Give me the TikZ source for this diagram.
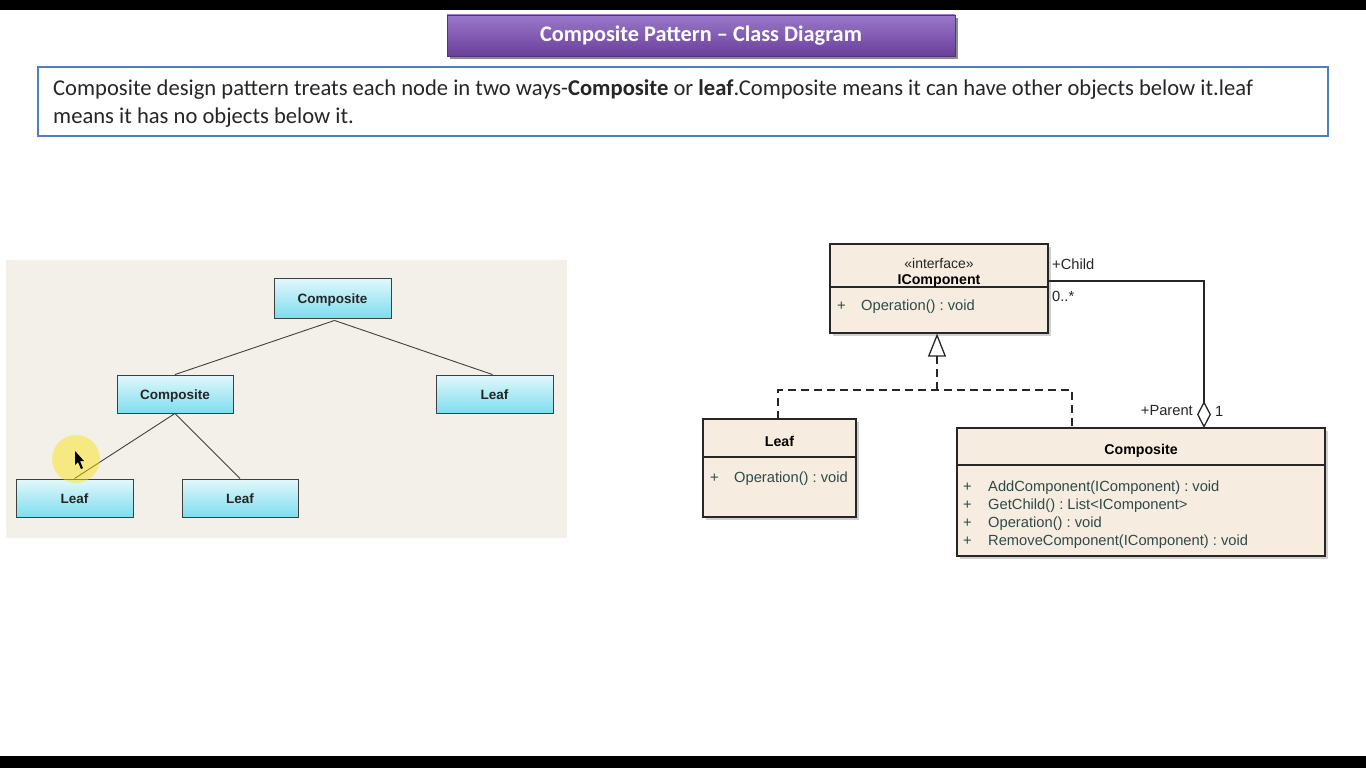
\documentclass[tikz,border=0pt]{standalone}
\usepackage{fontspec}
\setmainfont{Liberation Sans}
\newfontfamily\calfont{Carlito}
\usetikzlibrary{arrows.meta,shadows,calc}
\frenchspacing
\definecolor{umlfill}{HTML}{F6ECDF}
\definecolor{optext}{HTML}{2E4A4A}
\definecolor{descblue}{HTML}{4F7FC0}
\definecolor{panelbg}{HTML}{F3F0EA}
\definecolor{cyantop}{HTML}{E2F8FC}
\definecolor{cyanbot}{HTML}{7EDDEE}
\definecolor{purtop}{HTML}{9A78CA}
\definecolor{purbot}{HTML}{6A3F9B}
\tikzset{
  treebox/.style={draw=black!75, line width=0.9pt, top color=cyantop, bottom color=cyanbot,
    font=\fontsize{13.5}{15}\selectfont\bfseries, text=black!85, inner sep=0pt,
    text height=10pt, text depth=0pt},
  treeline/.style={draw=black!75, line width=0.9pt},
  umlbox/.style={draw=black!85, line width=1.2pt, fill=umlfill, inner sep=0pt,
    drop shadow={shadow xshift=3pt, shadow yshift=-3pt, fill=black!30, opacity=0.6}},
  umldiv/.style={draw=black!85, line width=1.1pt},
  clsname/.style={font=\fontsize{14.2}{16}\selectfont\bfseries, text=black, yshift=-1.5pt},
  optxt/.style={font=\fontsize{14.7}{16}\selectfont, text=optext, anchor=west, inner sep=0pt, yshift=-1.5pt},
  asslbl/.style={font=\fontsize{14.7}{16}\selectfont, text=black!85, inner sep=0pt},
  desctxt/.style={anchor=west, inner sep=0pt, font=\calfont\fontsize{22.6}{24}\selectfont, text=black!85, yshift=-2pt},
  realize/.style={draw=black!85, line width=1.4pt, dash pattern=on 8pt off 5pt},
  assoc/.style={draw=black!85, line width=1.4pt},
}
\begin{document}
\begin{tikzpicture}[x=1pt,y=-1pt]
\useasboundingbox (0,0) rectangle (1366,768);
\fill[white] (0,0) rectangle (1366,768);
% black bars
\fill[black] (0,0) rectangle (1366,10);
\fill[black] (0,756) rectangle (1366,768);
% title banner
\fill[black!45] (450,18) rectangle (958,59);
\node[top color=purtop, bottom color=purbot, draw=purbot!80!black, line width=0.6pt,
  minimum width=508pt, minimum height=41pt, inner sep=0pt, text=white,
  font=\calfont\fontsize{22.3}{24}\selectfont\bfseries] (title) at (701,35.5) {Composite Pattern – Class Diagram};
% description box
\node[draw=descblue, line width=2.5pt, fill=white, minimum width=1290pt, minimum height=69pt, inner sep=0pt] (desc) at (683,101.5) {};
\node[desctxt] (d1) at (53,88)
  {Composite design pattern treats each node in two ways-\textbf{Composite} or \textbf{leaf}.Composite means it can have other objects below it.leaf};
\node[desctxt] (d2) at (53,116)
  {means it has no objects below it.};
% left panel
\fill[panelbg] (6,260) rectangle (567,538);
\node[treebox, minimum width=117pt, minimum height=40pt] (c1) at (332.5,298) {Composite};
\node[treebox, minimum width=116pt, minimum height=38pt] (c2) at (175,394) {Composite};
\node[treebox, minimum width=117pt, minimum height=38pt] (l1) at (494.5,394) {Leaf};
\node[treebox, minimum width=117pt, minimum height=38pt] (l2) at (74.5,498) {Leaf};
\node[treebox, minimum width=116pt, minimum height=38pt] (l3) at (240,498) {Leaf};
\draw[treeline] ($(c1.south)+(2,2)$) -- (c2.north);
\draw[treeline] ($(c1.south)+(2,2)$) -- ($(l1.north)+(-2,0)$);
\draw[treeline] (c2.south) -- (l2.north);
\draw[treeline] (c2.south) -- (l3.north);
% cursor highlight
\fill[yellow!85!orange, opacity=0.45] (76,459) circle (24pt);
\fill[black] (75,451) -- (75,465) -- (78,462) -- (81,469) -- (83,468) -- (80,461) -- (84,461) -- cycle;
% UML: IComponent
\node[umlbox, minimum width=218pt, minimum height=89pt] (ic) at (939,288.5) {};
\draw[umldiv] (830,287) -- (1048,287);
\node[font=\fontsize{14}{16}\selectfont, text=black!85, inner sep=0pt, yshift=-1pt] (icst) at (939,262) {«interface»};
\node[clsname, inner sep=0pt] (icn) at (939,280) {IComponent};
\node[optxt] (icp) at (837,305) {+};
\node[optxt] (ico) at (861,305) {Operation() : void};
% Leaf class
\node[umlbox, minimum width=153pt, minimum height=98pt] (leaf) at (779.5,468) {};
\draw[umldiv] (703,457) -- (856,457);
\node[clsname, inner sep=0pt] (leafn) at (779.5,440) {Leaf};
\node[optxt] (leafp) at (710,477) {+};
\node[optxt] (leafo) at (734,477) {Operation() : void};
% Composite class
\node[umlbox, minimum width=368pt, minimum height=128pt] (comp) at (1141,492) {};
\draw[umldiv] (957,465) -- (1325,465);
\node[clsname, inner sep=0pt] (compn) at (1141,449) {Composite};
\node[optxt] (cp1) at (963,486) {+};
\node[optxt] (co1) at (988,486) {AddComponent(IComponent) : void};
\node[optxt] (cp2) at (963,504) {+};
\node[optxt] (co2) at (988,504) {GetChild() : List<IComponent>};
\node[optxt] (cp3) at (963,522) {+};
\node[optxt] (co3) at (988,522) {Operation() : void};
\node[optxt] (cp4) at (963,540) {+};
\node[optxt] (co4) at (988,540) {RemoveComponent(IComponent) : void};
% realization
\coordinate (jn) at (937,390);
\coordinate (leaftop) at (778,419);
\coordinate (comptop) at (1072,428);
\draw[realize] (leaftop) |- (jn) -| (comptop);
\draw[realize, -{Triangle[open, length=23pt, width=18pt, line width=1.3pt]}] (jn) -- (ic.south -| jn);
% aggregation
\coordinate (icr) at (1048,281);
\coordinate (aggtop) at (1204,428);
\draw[assoc, -{Diamond[open, length=27pt, width=14pt, line width=1.3pt]}] (icr) -| (aggtop);
\node[asslbl, anchor=west] (lchild) at (1052,264) {+Child};
\node[asslbl, anchor=west] (lmany) at (1052,296) {0..*};
\node[asslbl, anchor=east] (lparent) at (1193,411) {+Parent};
\node[asslbl, anchor=west] (lone) at (1215,411) {1};
\end{tikzpicture}
\end{document}
